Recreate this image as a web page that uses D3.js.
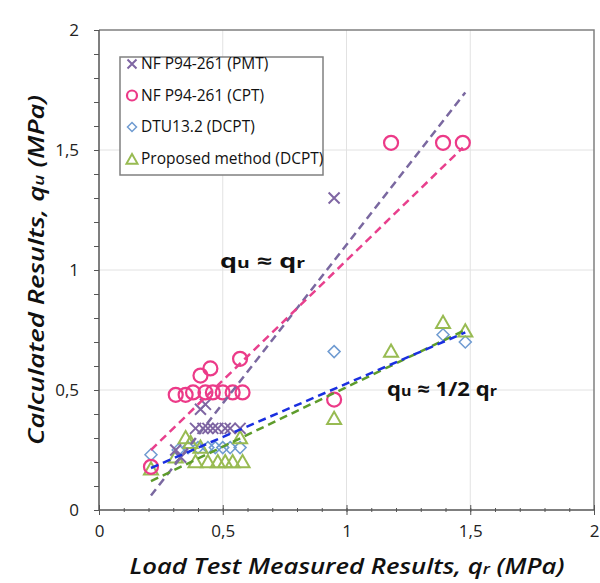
<!DOCTYPE html>
<html><head><meta charset="utf-8">
<script src="https://cdn.jsdelivr.net/npm/d3@7"></script>
<style>body{margin:0;background:#fff;} svg{display:block;}</style>
</head><body>
<svg id="c" width="600" height="583"></svg>
<script>
// ---- data ----
const xTicks = [0, 0.5, 1, 1.5, 2];
const yTicks = [0, 0.5, 1, 1.5, 2];
const tickLabels = ["0", "0,5", "1", "1,5", "2"];

const pmtX = [0.31, 0.33, 0.41, 0.43, 0.39, 0.42, 0.44, 0.46, 0.48, 0.51, 0.53, 0.57, 0.95];
const pmtY = [0.25, 0.22, 0.42, 0.44, 0.34, 0.34, 0.34, 0.34, 0.34, 0.34, 0.34, 0.34, 1.30];

const cptX = [0.21, 0.31, 0.35, 0.38, 0.41, 0.43, 0.45, 0.46, 0.50, 0.54, 0.57, 0.58, 0.95, 1.18, 1.39, 1.47];
const cptY = [0.18, 0.48, 0.48, 0.49, 0.56, 0.49, 0.59, 0.49, 0.49, 0.49, 0.63, 0.49, 0.46, 1.53, 1.53, 1.53];

const dtuX = [0.21, 0.32, 0.36, 0.40, 0.44, 0.47, 0.50, 0.53, 0.57, 0.95, 1.39, 1.48];
const dtuY = [0.23, 0.25, 0.26, 0.26, 0.26, 0.26, 0.26, 0.26, 0.26, 0.66, 0.73, 0.70];

const propX = [0.21, 0.31, 0.35, 0.37, 0.41, 0.57, 0.39, 0.44, 0.48, 0.51, 0.54, 0.58, 0.95, 1.18, 1.39, 1.48];
const propY = [0.17, 0.22, 0.30, 0.28, 0.26, 0.30, 0.20, 0.20, 0.20, 0.20, 0.20, 0.20, 0.38, 0.66, 0.78, 0.745];

// trend lines (start/end values)
const trendPmtX = [0.21, 1.48], trendPmtY = [0.06, 1.74];
const trendCptX = [0.21, 1.47], trendCptY = [0.25, 1.51];
const trendDtuX = [0.21, 1.48], trendDtuY = [0.175, 0.74];
const trendPropX = [0.21, 1.48], trendPropY = [0.12, 0.75];

const legendLabels = ["NF P94-261 (PMT)", "NF P94-261 (CPT)", "DTU13.2 (DCPT)", "Proposed method (DCPT)"];

// ---- layout ----
const svg = d3.select("#c");
const L = 99, T = 30, R = 594, B = 510;
const x = d3.scaleLinear().domain([0, 2]).range([L, R]);
const y = d3.scaleLinear().domain([0, 2]).range([B, T]);
const font = "'Open Sans', sans-serif";

const cPmt = "#7f66a3", cCpt = "#ec3a88", cDtu = "#6f9bd1", cProp = "#98bb52";
const lPmt = "#7a68a0", lCpt = "#e8408d", lDtu = "#1a2fe0", lProp = "#5e9c2c";

// grid
const grid = svg.append("g");
[0.5, 1, 1.5].forEach(v => {
  grid.append("line").attr("x1", x(v)).attr("x2", x(v)).attr("y1", T).attr("y2", B)
    .attr("stroke", "#e2e2e2").attr("stroke-width", 1);
  grid.append("line").attr("x1", L).attr("x2", R).attr("y1", y(v)).attr("y2", y(v))
    .attr("stroke", "#e2e2e2").attr("stroke-width", 1);
});
// frame top/right
svg.append("path").attr("d", `M${L},${T}H${R}V${B}`).attr("fill", "none")
  .attr("stroke", "#808080").attr("stroke-width", 1.5);

// axes
const xMinor = d3.range(0, 2.001, 0.1);
const yMinor = d3.range(0, 2.001, 0.1);
const xAxisMinor = d3.axisBottom(x).tickValues(xMinor).tickSize(4).tickFormat("");
const gx = svg.append("g").attr("transform", `translate(0,${B - 2})`).call(xAxisMinor);
gx.select(".domain").remove();
gx.selectAll("line").attr("stroke", "#555");
const xAxis = d3.axisBottom(x).tickValues(xTicks).tickSize(10).tickFormat((d, i) => tickLabels[i]);
const gx2 = svg.append("g").attr("transform", `translate(0,${B - 5})`).call(xAxis);
gx2.select(".domain").remove();
gx2.selectAll("line").attr("stroke", "#555");
gx2.selectAll("text").attr("font-family", font).attr("font-size", 17).attr("fill", "#222").attr("dy", "0.71em")
  .attr("y", 20);
svg.append("line").attr("x1", L).attr("x2", R).attr("y1", B).attr("y2", B).attr("stroke", "#555").attr("stroke-width", 1.5);

const yAxisMinor = d3.axisLeft(y).tickValues(yMinor).tickSize(5).tickFormat("");
const gy = svg.append("g").attr("transform", `translate(${L},0)`).call(yAxisMinor);
gy.select(".domain").remove();
gy.selectAll("line").attr("stroke", "#555");
const yAxis = d3.axisLeft(y).tickValues(yTicks).tickSize(5).tickFormat((d, i) => tickLabels[i]).tickPadding(15);
const gy2 = svg.append("g").attr("transform", `translate(${L},0)`).call(yAxis);
gy2.select(".domain").remove();
gy2.selectAll("line").attr("stroke", "#555");
gy2.selectAll("text").attr("font-family", font).attr("font-size", 17).attr("fill", "#222");
svg.append("line").attr("x1", L).attr("x2", L).attr("y1", T).attr("y2", B).attr("stroke", "#555").attr("stroke-width", 1.5);

// trend lines
function trend(xs, ys, color) {
  svg.append("line").attr("x1", x(xs[0])).attr("y1", y(ys[0])).attr("x2", x(xs[1])).attr("y2", y(ys[1]))
    .attr("stroke", color).attr("stroke-width", 2.5).attr("stroke-dasharray", "8,5");
}

// markers
const sym = {
  cross: (g, s, c) => g.append("path").attr("d", `M${-s},${-s}L${s},${s}M${-s},${s}L${s},${-s}`).attr("stroke", c).attr("stroke-width", 2).attr("fill", "none"),
  circle: (g, s, c) => g.append("circle").attr("r", s).attr("stroke", c).attr("stroke-width", 2.2).attr("fill", "none"),
  diamond: (g, s, c) => g.append("path").attr("d", `M0,${-s}L${s},0L0,${s}L${-s},0Z`).attr("stroke", c).attr("stroke-width", 1.5).attr("fill", "none"),
  tri: (g, s, c) => g.append("path").attr("d", `M0,${-s}L${s * 1.0},${s * 0.75}L${-s * 1.0},${s * 0.75}Z`).attr("stroke", c).attr("stroke-width", 2).attr("fill", "none")
};
function series(xs, ys, type, size, color) {
  const g = svg.append("g");
  xs.forEach((v, i) => {
    const gg = g.append("g").attr("transform", `translate(${x(v)},${y(ys[i])})`);
    sym[type](gg, size, color);
  });
}
series(dtuX, dtuY, "diamond", 6, cDtu);
series(propX, propY, "tri", 7, cProp);
series(pmtX, pmtY, "cross", 5.5, cPmt);
series(cptX, cptY, "circle", 7, cCpt);

trend(trendPmtX, trendPmtY, lPmt);
trend(trendCptX, trendCptY, lCpt);
trend(trendPropX, trendPropY, lProp);
trend(trendDtuX, trendDtuY, lDtu);

// legend
const lg = svg.append("g");
lg.append("rect").attr("x", 120).attr("y", 57).attr("width", 203).attr("height", 118)
  .attr("fill", "#fff").attr("stroke", "#808080").attr("stroke-width", 1.5);
const legTypes = [["cross", 4.5, cPmt], ["circle", 5, cCpt], ["diamond", 4.5, cDtu], ["tri", 5.5, cProp]];
legendLabels.forEach((t, i) => {
  const yy = 64 + i * 31.5;
  const gg = lg.append("g").attr("transform", `translate(132,${yy + (i === 3 ? 1 : 0)})`);
  sym[legTypes[i][0]](gg, legTypes[i][1], legTypes[i][2]);
  lg.append("text").attr("x", 141).attr("y", yy).attr("dy", "0.35em").attr("font-family", font)
    .attr("font-size", 15.5).attr("fill", "#111").text(t);
});

// annotations
function subText(g, px, py, parts, size, len) {
  const t = g.append("text").attr("x", px).attr("y", py).attr("font-family", font).attr("font-weight", "bold")
    .attr("font-size", size).attr("fill", "#111")
    .attr("textLength", len).attr("lengthAdjust", "spacingAndGlyphs");
  parts.forEach(p => {
    const ts = t.append("tspan").text(p[0]);
    if (p[1]) ts.attr("font-size", size * 0.72);
  });
  return t;
}
subText(svg, 220, 268, [["q"], ["u", 1], [" ≈ q"], ["r", 1]], 20, 85);
subText(svg, 387, 396, [["q"], ["u", 1], [" ≈ 1/2 q"], ["r", 1]], 20, 110);

// axis titles
const xt = svg.append("text").attr("x", 347).attr("y", 574).attr("text-anchor", "middle")
  .attr("font-family", font).attr("font-weight", 600).attr("font-style", "italic").attr("font-size", 22).attr("fill", "#111")
  .attr("textLength", 435).attr("lengthAdjust", "spacingAndGlyphs");
xt.append("tspan").text("Load Test Measured Results, q");
xt.append("tspan").text("r").attr("font-size", 15);
xt.append("tspan").text(" (MPa)");

const yt = svg.append("text").attr("transform", `translate(44,270) rotate(-90)`).attr("text-anchor", "middle")
  .attr("font-family", font).attr("font-weight", 600).attr("font-style", "italic").attr("font-size", 22).attr("fill", "#111")
  .attr("textLength", 350).attr("lengthAdjust", "spacingAndGlyphs");
yt.append("tspan").text("Calculated Results, q");
yt.append("tspan").text("u").attr("font-size", 15);
yt.append("tspan").text(" (MPa)");
</script>
</body></html>
